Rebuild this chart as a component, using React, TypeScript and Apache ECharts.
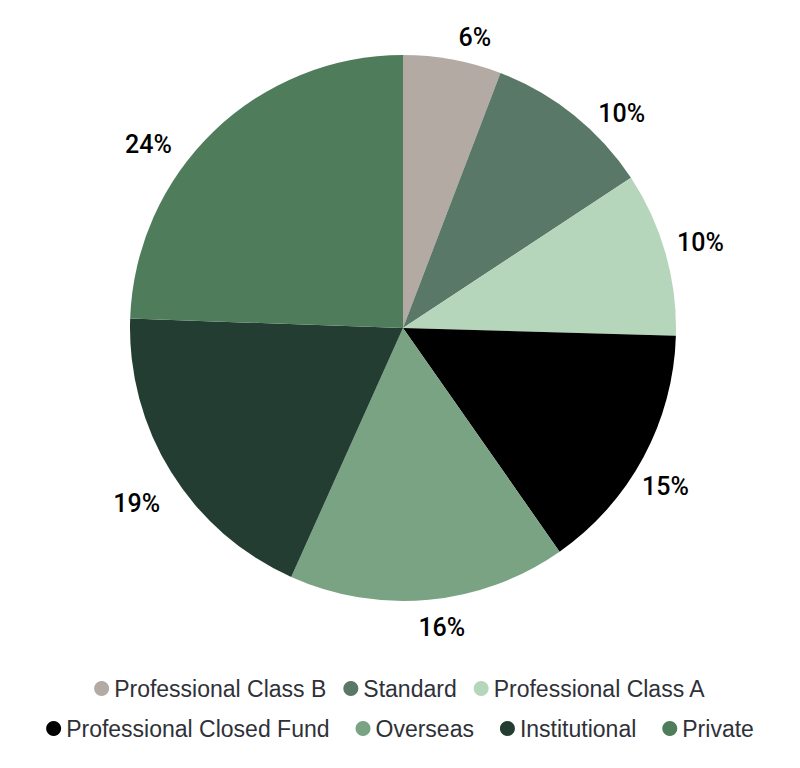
import React, { useEffect, useRef } from "react";
import * as echarts from "echarts";

const categories = [
  "Professional Class B",
  "Standard",
  "Professional Class A",
  "Professional Closed Fund",
  "Overseas",
  "Institutional",
  "Private",
];
const values = [5.8, 9.9, 9.7, 14.8, 16.4, 18.8, 24.4];
const colors = ["#b3aaa4", "#5a7868", "#b6d6bb", "#000000", "#7aa383", "#233d33", "#4f7d5c"];
const legendRow1 = categories.slice(0, 3);
const legendRow2 = categories.slice(3);
// per-slice label line lengths (style only): [length, length2]
const labelLineLengths = [
  [22, -3],
  [2, 18],
  [40, -32],
  [61, -60],
  [28, -18],
  [58, -43],
  [-18, 49],
];

export default function App() {
  const ref = useRef<HTMLDivElement>(null);
  useEffect(() => {
    document.body.style.margin = "0";
    const chart = echarts.init(ref.current!, null, { renderer: "svg" });
    const legendBase = {
      left: "center",
      orient: "horizontal",
      icon: "circle",
      itemWidth: 15,
      itemHeight: 15,
      textStyle: { fontFamily: "Liberation Sans", fontSize: 23, color: "#2f3138" },
    };
    chart.setOption({
      animation: false,
      color: colors,
      legend: [
        { ...legendBase, top: 672, itemGap: 17, data: legendRow1 },
        { ...legendBase, top: 712, itemGap: 26, data: legendRow2 },
      ],
      series: [
        {
          type: "pie",
          center: [403, 328],
          radius: 273,
          startAngle: 90,
          clockwise: true,
          avoidLabelOverlap: false,
          label: {
            show: true,
            position: "outside",
            fontFamily: "Roboto",
            fontSize: 25,
            fontWeight: 500,
            color: "#000",
            formatter: (p: any) => Math.round(p.percent) + "%",
          },
          labelLine: { show: false },
          data: categories.map((name, i) => ({
            name,
            value: values[i],
            labelLine: { show: false, length: labelLineLengths[i][0], length2: labelLineLengths[i][1] },
          })),
        },
      ],
    });
    return () => chart.dispose();
  }, []);
  return <div ref={ref} style={{ width: 800, height: 768 }} />;
}
